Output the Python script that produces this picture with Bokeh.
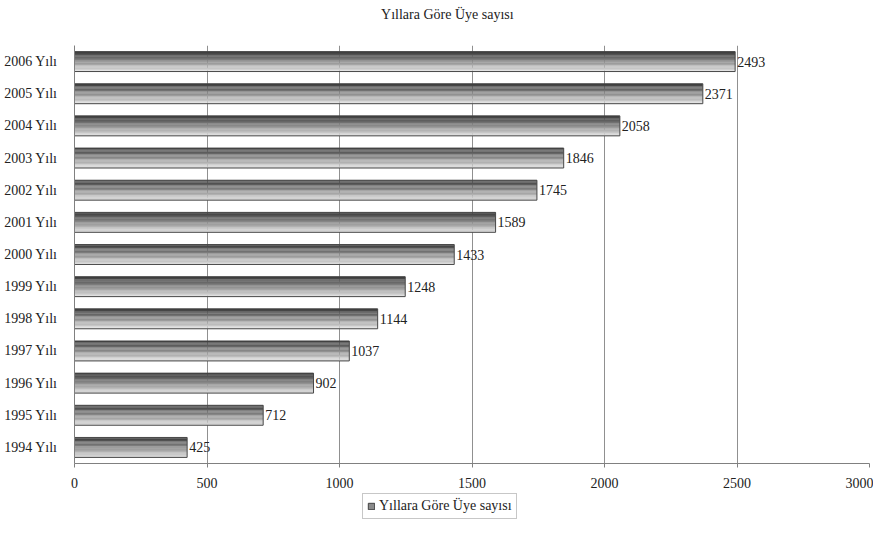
from bokeh.plotting import figure
from bokeh.models import Range1d, FixedTicker, Legend, LegendItem, ColumnDataSource, LabelSet
from bokeh.core.properties import value
from bokeh.layouts import column
from bokeh.transform import dodge
from bokeh.embed import file_html
from bokeh.resources import INLINE

years = ["1994 Yılı", "1995 Yılı", "1996 Yılı", "1997 Yılı", "1998 Yılı", "1999 Yılı",
         "2000 Yılı", "2001 Yılı", "2002 Yılı", "2003 Yılı", "2004 Yılı", "2005 Yılı", "2006 Yılı"]
members = [425, 712, 902, 1037, 1144, 1248, 1433, 1589, 1745, 1846, 2058, 2371, 2493]
x_ticks = [0, 500, 1000, 1500, 2000, 2500, 3000]
title_text = "Yıllara Göre Üye sayısı"
series_name = "Yıllara Göre Üye sayısı"

FONT = "Liberation Serif"
FS = "14px"
W = 873
idx = list(range(len(years)))
src = ColumnDataSource(dict(y=idx, v=members, lab=[str(m) for m in members]))

# title strip
p0 = figure(width=W, height=28, output_backend="svg", toolbar_location=None,
            x_range=Range1d(0, 1), y_range=Range1d(0, 1), min_border=0)
p0.axis.visible = False
p0.grid.grid_line_color = None
p0.outline_line_color = None
tsrc = ColumnDataSource(dict(x=[0.469], y=[0.5], t=[title_text]))
p0.text(x="x", y="y", text="t", source=tsrc, text_align="center", text_baseline="middle",
        text_font=value(FONT), text_font_size=FS, text_color="#222222")

p = figure(width=W, height=464, output_backend="svg", toolbar_location=None,
           x_range=Range1d(0, 3000), y_range=Range1d(-0.5, len(years) - 0.5),
           min_border_left=74, min_border_right=4, min_border_top=17, min_border_bottom=29)
p.outline_line_color = None

# gradient bars built from horizontal strips
bar_h = 0.62
n = 16
strip_h = bar_h / n
for k in range(n):
    off = bar_h / 2 - (k + 0.5) * strip_h
    t = k / (n - 1)
    g = int(0x3c + (0xdc - 0x3c) * t)
    col = "#%02x%02x%02x" % (g, g, g)
    p.hbar(y=dodge("y", off), right="v", left=0, height=strip_h * 1.08,
           source=src, fill_color=col, line_color=None)
p.hbar(y="y", right="v", left=0, height=bar_h, source=src, fill_color=None,
       line_color="#484848", line_width=1)

labels = LabelSet(x="v", y="y", text="lab", source=src, x_offset=2, text_baseline="middle",
                  text_font=FONT, text_font_size=FS, text_color="#222222")
p.add_layout(labels)

p.xaxis.ticker = FixedTicker(ticks=x_ticks)
p.xaxis.axis_line_color = "#808080"
p.xaxis.major_tick_line_color = "#808080"
p.xaxis.major_tick_out = 4
p.xaxis.major_tick_in = 0
p.xaxis.minor_tick_line_color = None
p.xaxis.major_label_standoff = 10
p.xaxis.major_label_text_font = FONT
p.xaxis.major_label_text_font_size = FS
p.xaxis.major_label_text_color = "#222222"

p.yaxis.ticker = FixedTicker(ticks=idx)
p.yaxis.major_label_overrides = {i: years[i] for i in idx}
p.yaxis.axis_line_color = "#808080"
p.yaxis.major_tick_line_color = None
p.yaxis.minor_tick_line_color = None
p.yaxis.major_label_standoff = 11
p.yaxis.major_label_text_font = FONT
p.yaxis.major_label_text_font_size = FS
p.yaxis.major_label_text_color = "#222222"

p.xgrid.grid_line_color = "#909090"
p.ygrid.grid_line_color = None

# legend strip below the chart (legend swatch renderer hidden under the legend box)
p2 = figure(width=W, height=30, output_backend="svg", toolbar_location=None,
            x_range=Range1d(0, 1), y_range=Range1d(0, 1), min_border=0)
p2.axis.visible = False
p2.grid.grid_line_color = None
p2.outline_line_color = None
hidden = ColumnDataSource(dict(y=[0.5], l=[0.45], r=[0.46]))
lr = p2.hbar(y="y", right="r", left="l", height=0.2, source=hidden,
             fill_color="#8a8a8a", line_color="#404040")
legend = Legend(items=[LegendItem(label=series_name, renderers=[lr])],
                location=(288, 3), orientation="horizontal",
                border_line_color="#909090", background_fill_color="white",
                background_fill_alpha=1.0, label_text_font=FONT, label_text_font_size=FS,
                label_text_color="#222222", glyph_width=8, glyph_height=8, padding=4,
                margin=0, label_standoff=4, label_height=14)
p2.add_layout(legend)

layout = column(p0, p, p2, spacing=0)
open("out.html", "w").write(file_html(layout, INLINE))
